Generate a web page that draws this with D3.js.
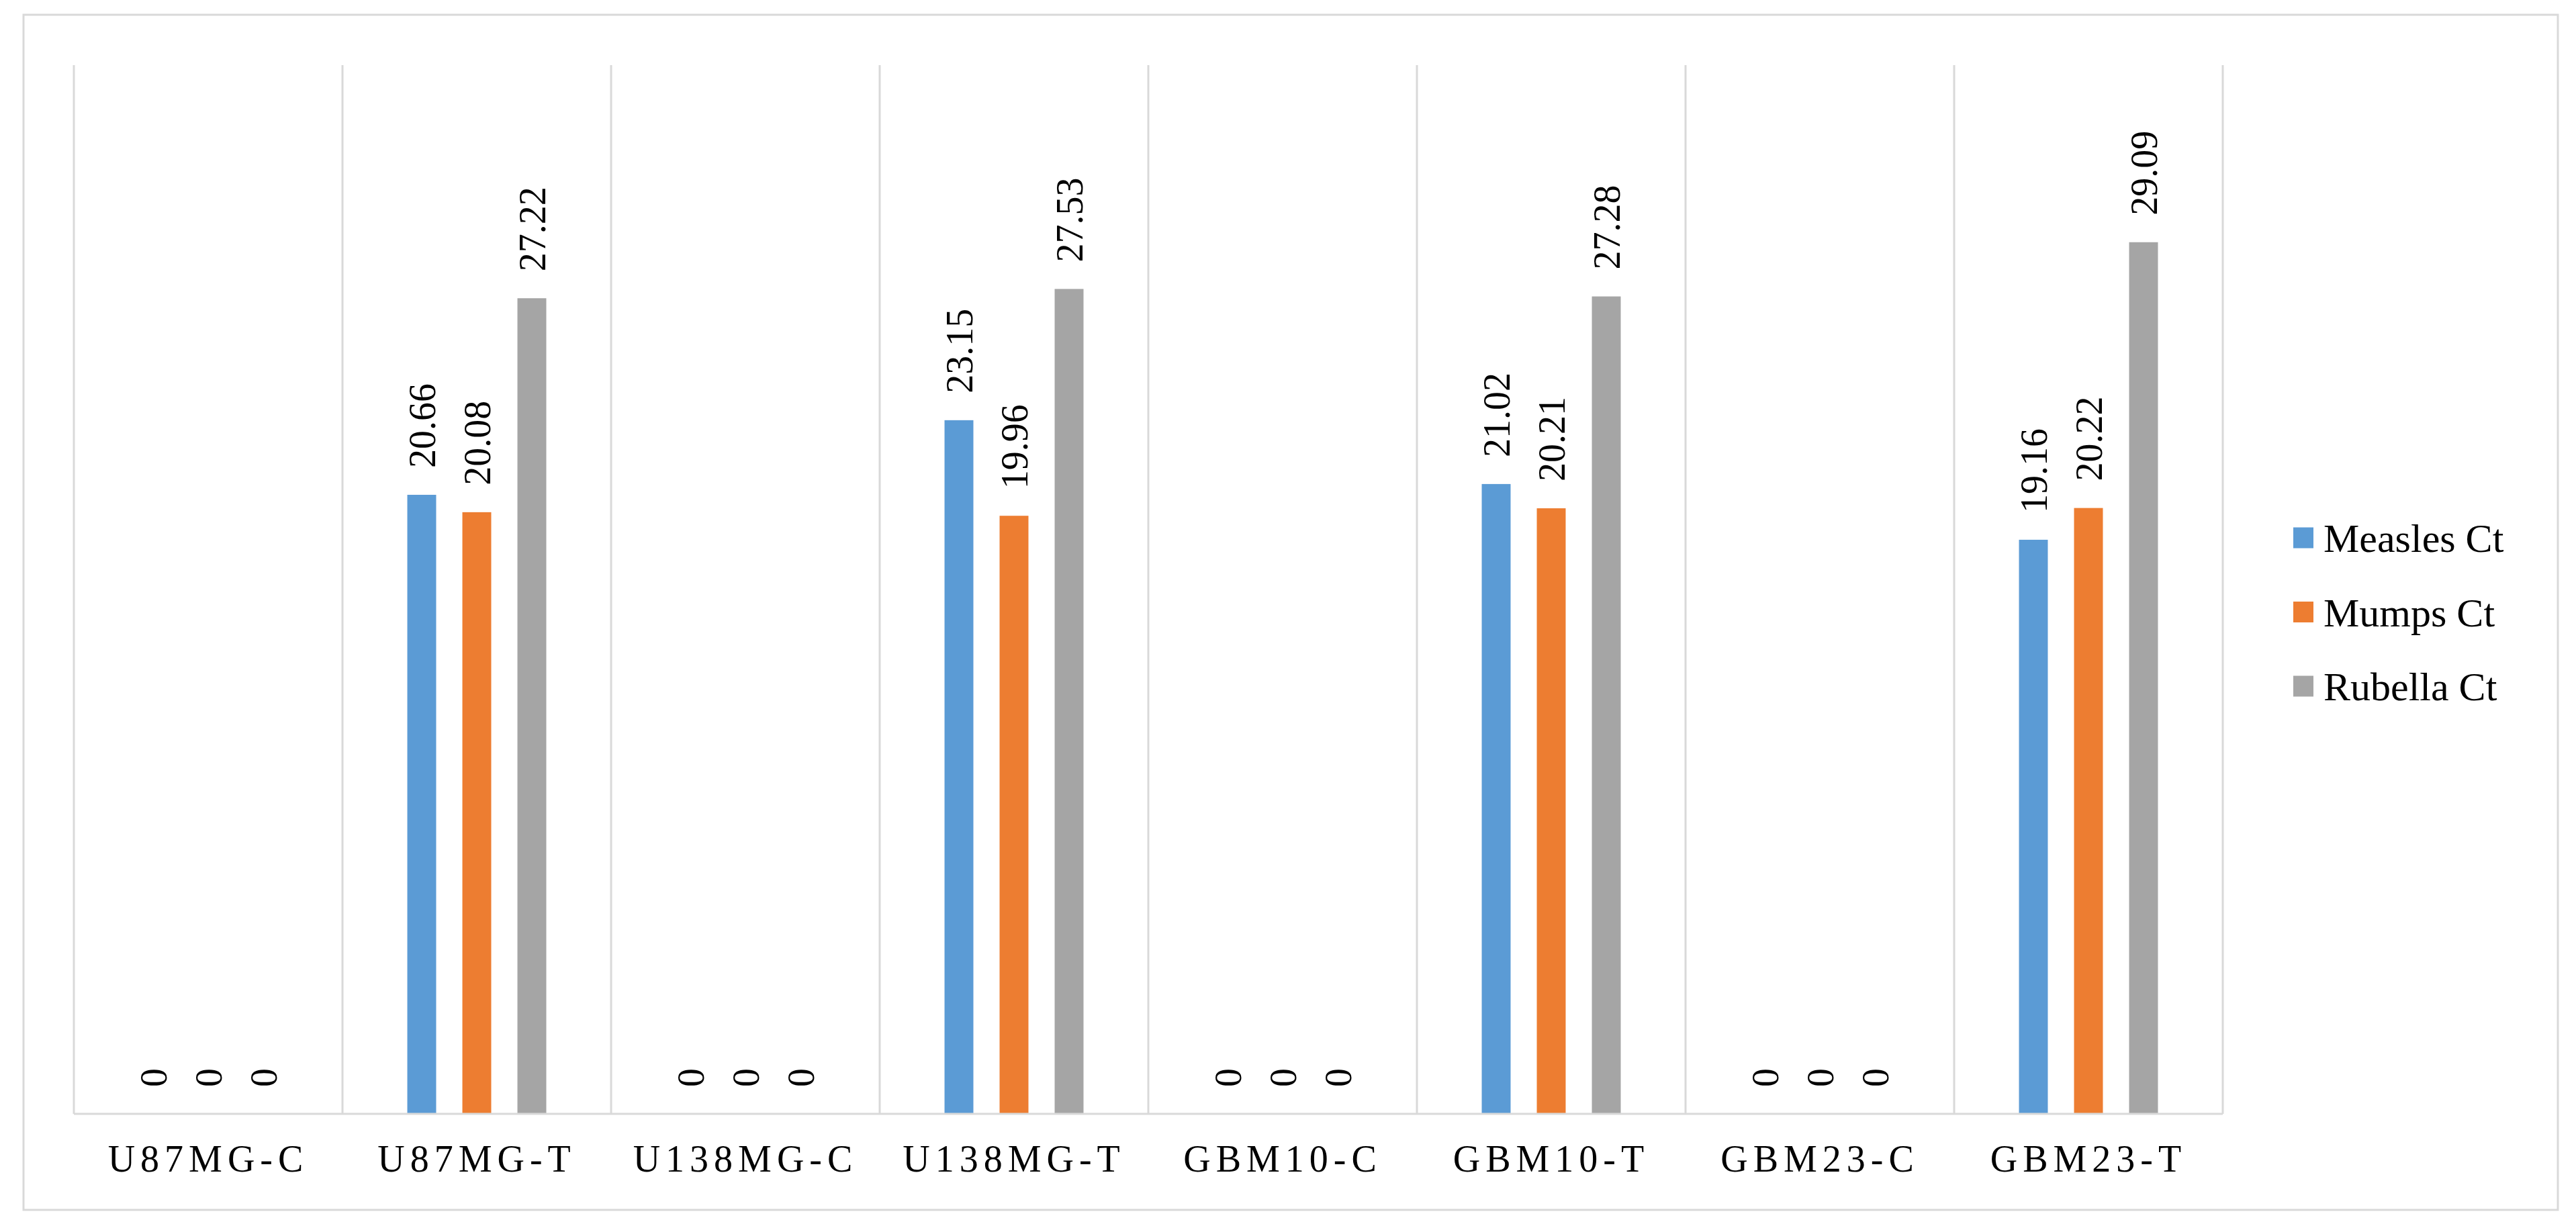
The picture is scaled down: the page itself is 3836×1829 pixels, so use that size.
<!DOCTYPE html>
<html>
<head>
<meta charset="utf-8">
<script src="https://cdn.jsdelivr.net/npm/d3@7"></script>
<style>
  html, body { margin: 0; padding: 0; background: #ffffff; }
  svg { display: block; }
</style>
</head>
<body>
<svg id="chart" width="3836" height="1829"></svg>
<script>
// ---- data ----
const categories = ["U87MG-C", "U87MG-T", "U138MG-C", "U138MG-T", "GBM10-C", "GBM10-T", "GBM23-C", "GBM23-T"];
const seriesNames = ["Measles Ct", "Mumps Ct", "Rubella Ct"];
const measles = [0, 20.66, 0, 23.15, 0, 21.02, 0, 19.16];
const mumps   = [0, 20.08, 0, 19.96, 0, 20.21, 0, 20.22];
const rubella = [0, 27.22, 0, 27.53, 0, 27.28, 0, 29.09];
const seriesColors = ["#5B9BD5", "#ED7D31", "#A5A5A5"];
const yDomain = [0, 35];

const seriesValues = [measles, mumps, rubella];
const rows = categories.map((c, i) => ({
  cat: c,
  vals: seriesNames.map((s, j) => ({ series: s, value: seriesValues[j][i], color: seriesColors[j] }))
}));

// ---- layout ----
const svg = d3.select("#chart");
const plot = { left: 110, right: 3310, top: 97, bottom: 1659 };
const gridColor = "#d9d9d9";
const font = "'Liberation Serif', 'Times New Roman', serif";

// outer chart border
svg.append("rect")
  .attr("x", 35).attr("y", 22)
  .attr("width", 3809 - 35).attr("height", 1802 - 22)
  .attr("fill", "#ffffff")
  .attr("stroke", gridColor).attr("stroke-width", 3);

const x0 = d3.scaleBand().domain(categories).range([plot.left, plot.right]).paddingInner(0).paddingOuter(0);
const x1 = d3.scaleBand().domain(seriesNames).range([0, x0.bandwidth()]).paddingInner(0.476).paddingOuter(1.177);
const y = d3.scaleLinear().domain(yDomain).range([plot.bottom, plot.top]);

// vertical category separators
const bounds = categories.map(c => x0(c)).concat([x0(categories[categories.length - 1]) + x0.bandwidth()]);
svg.append("g").selectAll("line").data(bounds).join("line")
  .attr("x1", d => d).attr("x2", d => d)
  .attr("y1", y(yDomain[1])).attr("y2", y(0))
  .attr("stroke", gridColor).attr("stroke-width", 3);

// bars
const groups = svg.append("g").selectAll("g").data(rows).join("g")
  .attr("transform", d => `translate(${x0(d.cat)},0)`);

groups.selectAll("rect").data(d => d.vals).join("rect")
  .attr("x", d => x1(d.series))
  .attr("width", x1.bandwidth())
  .attr("y", d => y(d.value))
  .attr("height", d => y(0) - y(d.value))
  .attr("fill", d => d.color);

// value labels (rotated)
groups.selectAll("text").data(d => d.vals).join("text")
  .attr("transform", d => `translate(${x1(d.series) + x1.bandwidth() / 2},${y(d.value) - 40}) rotate(-90)`)
  .attr("dy", "0.35em")
  .attr("text-anchor", "start")
  .attr("font-family", font)
  .attr("font-size", 56)
  .attr("fill", "#000000")
  .text(d => d.value === 0 ? "0" : d.value.toFixed(2));

// x axis
const xAxis = svg.append("g")
  .attr("transform", `translate(0,${plot.bottom})`)
  .call(d3.axisBottom(x0).tickSize(0).tickPadding(60));
xAxis.select(".domain").attr("stroke", gridColor).attr("stroke-width", 3)
  .attr("d", `M${plot.left},0H${plot.right}`);
xAxis.selectAll(".tick text")
  .attr("font-family", font)
  .attr("font-size", 56)
  .attr("fill", "#000000")
  .attr("letter-spacing", "8px")
  .attr("dy", 0)
  .attr("y", 86);

// legend
const legend = svg.append("g").selectAll("g").data(seriesNames).join("g")
  .attr("transform", (d, i) => `translate(3415,${801 + i * 110.5})`);
legend.append("rect")
  .attr("x", 0).attr("y", -15.5)
  .attr("width", 30).attr("height", 31)
  .attr("fill", (d, i) => seriesColors[i]);
legend.append("text")
  .attr("x", 45).attr("y", 0).attr("dy", "0.35em")
  .attr("font-family", font)
  .attr("font-size", 60)
  .attr("fill", "#000000")
  .text(d => d);
</script>
</body>
</html>
